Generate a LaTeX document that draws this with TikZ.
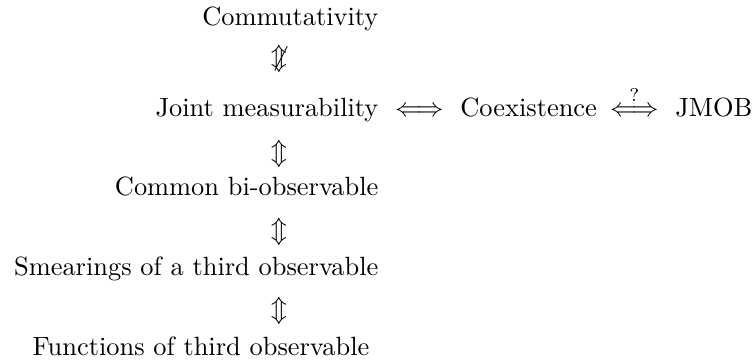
\documentclass[tikz,border=0pt]{standalone}
\begin{document}
\begin{tikzpicture}[every node/.style={inner sep = 0pt}, txt/.style={anchor = base east}, rtxt/.style={anchor = base west}, sym/.style={anchor = center}]

  \useasboundingbox (0, 0) rectangle (10.052, -4.833);

  \node[txt] (comm) at (5.045, -0.346) { Commutativity };
  \node[sym] (nimp) at (3.714, -0.785) { $\not\Updownarrow$ };

  \node[txt] (joint) at (5.045, -1.557) { Joint measurability };
  \node[anchor = base] (iffa) at (5.584, -1.557) { $\Longleftrightarrow$ };
  \node[rtxt] (coex) at (6.123, -1.557) { Coexistence };
  \node[anchor = base] (iffb) at (8.446, -1.557) { $\stackrel{?}{\Longleftrightarrow}$ };
  \node[rtxt] (jmob) at (8.985, -1.557) { JMOB };

  \node[sym] (eqa) at (3.714, -2.050) { $\Updownarrow$ };
  \node[txt] (bobs) at (5.045, -2.609) { Common bi-observable };

  \node[sym] (eqb) at (3.714, -3.088) { $\Updownarrow$ };
  \node[txt] (smear) at (5.045, -3.674) { Smearings of a third observable };

  \node[sym] (eqc) at (3.714, -4.140) { $\Updownarrow$ };
  \node[txt] (func) at (4.925, -4.739) { Functions of third observable };

\end{tikzpicture}
\end{document}
